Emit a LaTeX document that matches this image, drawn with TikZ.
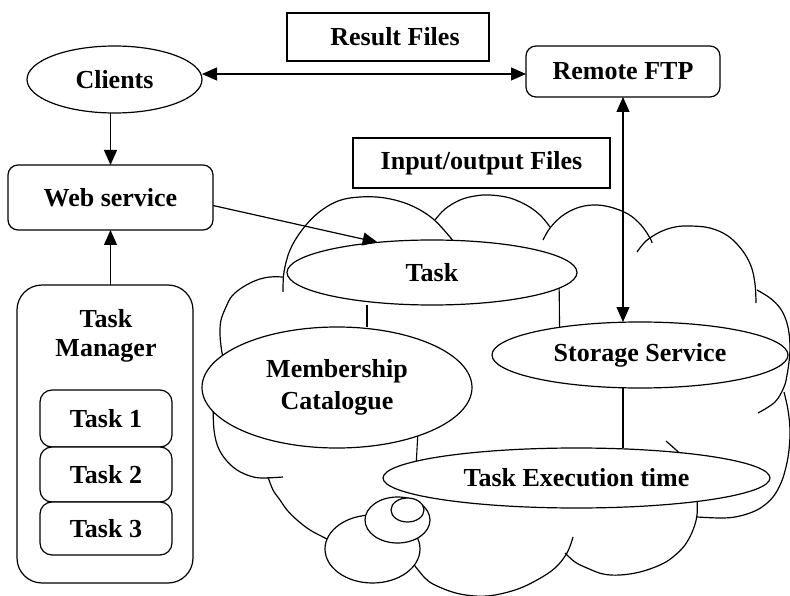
\documentclass[tikz,border=0pt]{standalone}
\usepackage{fontspec}
\setmainfont{Liberation Serif}
\usetikzlibrary{arrows.meta,shapes.geometric,calc}
\begin{document}
\begin{tikzpicture}[x=1pt,y=1pt,
  every node/.style={font=\fontsize{26}{29}\selectfont\bfseries, inner sep=0pt, outer sep=0pt},
  ell/.style={ellipse, draw, fill=white, line width=1.2pt, align=center},
  rbox/.style={rectangle, rounded corners=10pt, draw, fill=white, line width=1.2pt},
  sbox/.style={rectangle, draw, line width=1.2pt},
  arr/.style={line width=1.2pt, -{Triangle[length=15pt,width=13pt]}},
  darr/.style={line width=1.2pt, {Triangle[length=15pt,width=13pt]}-{Triangle[length=15pt,width=13pt]}},
  link/.style={line width=1.1pt},
  cloudline/.style={line width=1.2pt}
]
\useasboundingbox (0,0) rectangle (790,-596);

% ---- cloud outline ----
\draw[cloudline] plot[smooth,tension=0.6] coordinates {(283,-292) (284,-272) (290,-250) (302,-230) (318,-213) (338,-201) (360,-197) (385,-198) (410,-205) (432,-218) (450,-237) (453,-242)};
\draw[cloudline] plot[smooth,tension=0.6] coordinates {(283,-277) (270,-277) (257,-280) (243,-287) (232,-296) (226,-307) (221,-320) (220,-333) (221,-346) (223,-358) (225,-365)};
\draw[cloudline] plot[smooth,tension=0.6] coordinates {(213,-405) (214,-430) (218,-447) (226,-460) (237,-470) (250,-476) (262,-478) (283,-477)};
\draw[cloudline] plot[smooth,tension=0.6] coordinates {(268,-477) (273,-490) (280,-500) (287,-510) (297,-520) (310,-530) (325,-538) (332,-542)};
\draw[cloudline] plot[smooth,tension=0.6] coordinates {(412,-562) (425,-578) (437,-586) (460,-594) (487,-596) (515,-590) (537,-580) (555,-568) (567,-553) (573,-537)};
\draw[cloudline] plot[smooth,tension=0.6] coordinates {(565,-553) (575,-562) (587,-568) (603,-574) (620,-575) (640,-572) (660,-565) (673,-557) (685,-545) (693,-530) (697,-515) (697,-498)};
\draw[cloudline] plot[smooth,tension=0.6] coordinates {(697,-517) (720,-518) (735,-517) (750,-513) (762,-507) (773,-497) (781,-483) (786,-467) (789,-450) (790,-430) (788,-410) (784,-392)};
\draw[cloudline] plot[smooth,tension=0.6] coordinates {(757,-290) (770,-298) (780,-308) (786,-320) (789,-333) (790,-348) (789,-362) (787,-375) (784,-387) (775,-402) (758,-413)};
\draw[cloudline] plot[smooth,tension=0.6] coordinates {(637,-252) (646,-241) (660,-232) (675,-227) (690,-226) (710,-228) (728,-236) (742,-250) (751,-266) (755,-284) (756,-303)};
\draw[cloudline] plot[smooth,tension=0.6] coordinates {(543,-240) (550,-228) (562,-216) (577,-208) (593,-205) (610,-207) (628,-214) (641,-225) (650,-238) (652,-243)};
\draw[cloudline] plot[smooth,tension=0.6] coordinates {(435,-220) (445,-209) (460,-200) (475,-196) (490,-195) (510,-198) (528,-206) (541,-216) (550,-227)};
\draw[cloudline] (666,-441) -- (684,-457);

% ---- thought bubbles ----
\draw[cloudline, fill=white] (372.5,-549) ellipse [x radius=47.5pt, y radius=34pt];
\draw[cloudline, fill=white] (397.5,-520) ellipse [x radius=32.5pt, y radius=23pt];
\draw[cloudline, fill=white] (407.5,-510) ellipse [x radius=16.5pt, y radius=12pt];

% ---- cloud contents ----
\node[ell, minimum width=290, minimum height=65] (task) at (432,-272.5) {Task};
\node[ell, minimum width=270, minimum height=121] (memb) at (337,-387.5) {Membership\\[3pt]Catalogue};
\node[ell, minimum width=296, minimum height=66] (stor) at (640,-355) {Storage Service};
\node[ell, minimum width=387, minimum height=60] (exec) at (576.5,-478) {Task Execution time};

% ---- outside nodes ----
\node[sbox, minimum width=202, minimum height=48] (res) at (388,-37) {\hspace*{14pt}Result Files};
\node[sbox, minimum width=257, minimum height=50] (io) at (481.5,-163) {Input/output Files};
\node[ell, minimum width=175, minimum height=67] (cli) at (114.5,-79.5) {Clients};
\node[rbox, minimum width=194, minimum height=51] (ftp) at (623,-71.5) {Remote FTP};
\node[rbox, minimum width=205, minimum height=65] (web) at (110.5,-197.5) {Web service};
\node[rbox, rounded corners=25pt, minimum width=176, minimum height=298] (tm) at (105,-434) {};
\node[align=center] (tmt) at (106,-335.5) {Task\\Manager};
\node[rbox, rounded corners=12pt, minimum width=132, minimum height=57] (t1) at (106,-418.5) {Task 1};
\node[rbox, rounded corners=12pt, minimum width=132, minimum height=55] (t2) at (106,-474.5) {Task 2};
\node[rbox, rounded corners=12pt, minimum width=132, minimum height=53] (t3) at (106,-528.5) {Task 3};

% ---- connectors ----
\coordinate (ay) at (0,-74);
\coordinate (xa) at (367,0);
\draw[darr] (cli.east |- ay) -- (ftp.west |- ay);
\draw[arr] (cli.south -| web.north) -- (web.north);
\draw[arr] (web.south |- tm.north) -- (web.south);
\draw[arr] ([yshift=-8pt]web.east) -- (task.151);
\draw[darr] (ftp.south) -- (ftp.south |- stor.north);
\draw[link] (task.south -| xa) -- (memb.north -| xa);
\draw[link] (task.-7.5) -- (stor.161.8);
\draw[link] (stor.south -| ftp.south) -- (exec.north -| ftp.south);
\draw[link] (memb.-31.6) -- (exec.174);
\end{tikzpicture}
\end{document}
